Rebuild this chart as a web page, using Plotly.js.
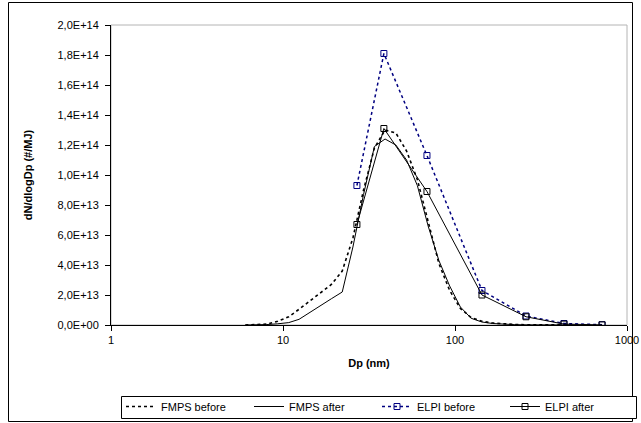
<!DOCTYPE html>
<html>
<head>
<meta charset="utf-8">
<script src="https://cdn.plot.ly/plotly-3.0.1.min.js"></script>
<style>
html,body{margin:0;padding:0;background:#fff;}
#chart{width:641px;height:423px;}
</style>
</head>
<body>
<div id="chart"></div>
<script>
// ---- data ----
const fmpsDp = [6.04,6.98,8.06,9.31,10.8,12.4,14.3,16.5,19.1,22.1,25.5,29.4,34.0,39.2,45.3,52.3,60.4,69.8,80.6,93.1,107.5,124.1,143.3,165.5,191.1,220.7,254.8,294.3,339.8,392.4,453.2,523.3];
const fmpsBefore = [0,1e11,6e11,2.5e12,5.5e12,1.05e13,1.6e13,2.1e13,2.7e13,3.6e13,5.8e13,9.0e13,1.18e14,1.30e14,1.28e14,1.16e14,9.7e13,6.9e13,4.1e13,2.3e13,1.1e13,5e12,2.5e12,1.3e12,7e11,4e11,2e11,1e11,6e10,3e10,2e10,1e10];
const fmpsAfter = [0,1e11,3e11,8e11,1.6e12,3.8e12,8.5e12,1.3e13,1.75e13,2.2e13,5.2e13,8.7e13,1.19e14,1.24e14,1.20e14,1.10e14,9.3e13,6.6e13,4.3e13,2.6e13,1.2e13,4.5e12,2e12,1e12,5e11,2.5e11,1.2e11,6e10,3e10,1.5e10,1e10,0];
const elpiDp = [26.9,38.6,68.7,143.5,258.7,430,716];
const elpiBefore = [9.3e13,1.81e14,1.13e14,2.3e13,6.0e12,1.0e12,2e11];
const elpiAfter = [6.7e13,1.31e14,8.9e13,2.0e13,5.5e12,6e11,1e11];

const seriesNames = ["FMPS before","FMPS after","ELPI before","ELPI after"];
const xTickVals = [1,10,100,1000];
const xTickText = ["1","10","100","1000"];
const yTickVals = [0,2e13,4e13,6e13,8e13,1e14,1.2e14,1.4e14,1.6e14,1.8e14,2e14];
const yTickText = ["0,0E+00","2,0E+13","4,0E+13","6,0E+13","8,0E+13","1,0E+14","1,2E+14","1,4E+14","1,6E+14","1,8E+14","2,0E+14"];

// ---- layout geometry (pixels) ----
const W = 641, H = 423;
const M = {l:111, r:14, t:25, b:98};
const pw = W - M.l - M.r, ph = H - M.t - M.b;
const px = x => (x - M.l) / pw;
const py = y => (H - M.b - y) / ph;

const font = "Liberation Sans, Arial, sans-serif";

const traces = [
  {x: fmpsDp, y: fmpsBefore, name: seriesNames[0], mode: "lines",
   line: {color: "#000000", width: 1.6, dash: "dot"}},
  {x: fmpsDp, y: fmpsAfter, name: seriesNames[1], mode: "lines",
   line: {color: "#000000", width: 1}},
  {x: elpiDp, y: elpiBefore, name: seriesNames[2], mode: "lines+markers",
   line: {color: "#000080", width: 1.5, dash: "dot"},
   marker: {symbol: "square-open", size: 6, color: "#000080", line: {width: 1}}},
  {x: elpiDp, y: elpiAfter, name: seriesNames[3], mode: "lines+markers",
   line: {color: "#000000", width: 1},
   marker: {symbol: "square-open", size: 6, color: "#000000", line: {width: 1}}}
];

const layout = {
  width: W, height: H,
  margin: {l: M.l, r: M.r, t: M.t, b: M.b, pad: 0, autoexpand: false},
  paper_bgcolor: "#ffffff", plot_bgcolor: "#ffffff",
  font: {family: font, size: 11, color: "#000"},
  showlegend: true,
  legend: {
    orientation: "h", x: px(121), y: py(392), xanchor: "left", yanchor: "top",
    borderwidth: 0, bgcolor: "rgba(0,0,0,0)",
    font: {family: font, size: 11, color: "#000"},
    tracegroupgap: 0, itemwidth: 30, entrywidth: 83
  },
  xaxis: {
    type: "log", range: [0, 3],
    tickvals: xTickVals, ticktext: xTickText,
    ticks: "outside", ticklen: 5, tickcolor: "#000", tickwidth: 1,
    showline: true, linecolor: "#000", linewidth: 1,
    showgrid: false, zeroline: false,
    tickfont: {family: font, size: 11},
    title: {text: "<b>Dp (nm)</b>", font: {family: font, size: 11}, standoff: 14}
  },
  yaxis: {
    range: [0, 2e14],
    tickvals: yTickVals, ticktext: yTickText,
    ticks: "outside", ticklen: 5, tickcolor: "#000", tickwidth: 1,
    ticklabelstandoff: 4,
    showline: true, linecolor: "#000", linewidth: 1,
    showgrid: false, zeroline: false,
    tickfont: {family: font, size: 11},
    title: {text: "<b>dN/dlogDp (#/MJ)</b>", font: {family: font, size: 11}, standoff: 22}
  },
  shapes: [
    {type: "rect", xref: "paper", yref: "paper", x0: 0, x1: 1, y0: 0, y1: 1,
     line: {color: "#b4b4b4", width: 1}, layer: "below"},
    {type: "rect", xref: "paper", yref: "paper",
     x0: px(8.5), x1: px(632.5), y0: py(421.5), y1: py(2.5),
     line: {color: "#000", width: 1}, layer: "below"},
    {type: "rect", xref: "paper", yref: "paper",
     x0: px(121.5), x1: px(636.5), y0: py(418.5), y1: py(396.5),
     line: {color: "#000", width: 1}, fillcolor: "#ffffff", layer: "below"}
  ]
};

Plotly.newPlot("chart", traces, layout, {staticPlot: true, displayModeBar: false});
</script>
</body>
</html>
